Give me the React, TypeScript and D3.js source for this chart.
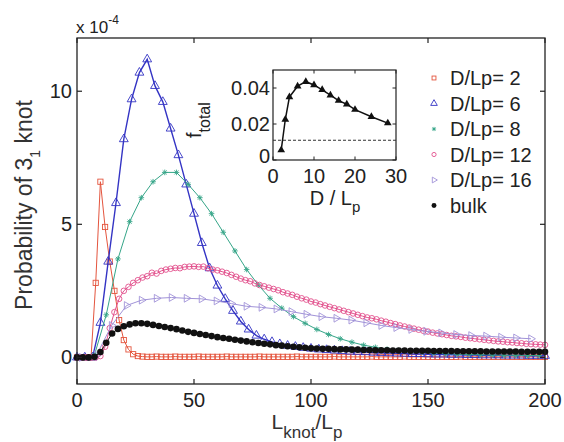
import React from 'react';
import * as d3 from 'd3';

const W = 564;
const H = 442;

// ---- main axes ----
const X_DOMAIN = [0, 200];
const Y_DOMAIN = [-1, 12];
const X_TICKS = [0, 50, 100, 150, 200];
const Y_TICKS = [0, 5, 10];

// ---- legend ----
const LEGEND_LABELS = ['D/Lp= 2', 'D/Lp= 6', 'D/Lp= 8', 'D/Lp= 12', 'D/Lp= 16', 'bulk'];

// ---- series (probability x 1e-4), sampled at start + i*step ----
const RED_START = 0;
const RED_STEP = 2;
const RED_VALUES = [
  0, 0, 0, 0, 2.8, 6.6, 4.9, 3.6, 2.5, 1.4, 0.65, 0.3, 0.12, 0.05,
  0.03, 0.02, 0.02, 0.03, 0.02, 0.02, 0.02, 0.03, 0.02, 0.02,
  0.02, 0.02, 0.03, 0.02, 0.02, 0.02, 0.02, 0.02, 0.03, 0.02,
  0.02, 0.02, 0.02, 0.02, 0.02, 0.03, 0.02, 0.02, 0.02, 0.02,
  0.02, 0.02, 0.02, 0.03, 0.02, 0.02, 0.02, 0.02, 0.02, 0.02,
  0.02, 0.03, 0.02, 0.02, 0.02, 0.02, 0.02, 0.02, 0.02, 0.03,
  0.02, 0.02, 0.02, 0.02, 0.02, 0.02, 0.03, 0.02, 0.02, 0.02,
  0.02, 0.02, 0.02, 0.02, 0.02, 0.02, 0.02, 0.02, 0.03, 0.02,
  0.02, 0.02, 0.02, 0.02, 0.02, 0.02, 0.02, 0.02, 0.02, 0.02,
  0.02, 0.02, 0.02, 0.02, 0.02, 0.02, 0.02,
];

const BLUE_START = 0;
const BLUE_STEP = 10 / 3;
const BLUE_VALUES = [
  0, 0, 0, 1.3, 3.6, 5.8, 8.2, 9.7, 10.7, 11.2,
  10.2, 9.6, 8.6, 7.6, 6.5, 5.4, 4.3, 3.35, 2.7, 2.2,
  1.75, 1.35, 1.05, 0.82, 0.68, 0.58, 0.5, 0.44, 0.4, 0.36,
  0.33, 0.3, 0.28, 0.26, 0.24, 0.22, 0.21, 0.2, 0.18, 0.17,
  0.16, 0.15, 0.14, 0.13, 0.13, 0.12, 0.11, 0.11, 0.1, 0.1,
  0.09, 0.09, 0.08, 0.08, 0.08, 0.07, 0.07, 0.07, 0.06, 0.06, 0.06,
];

const GREEN_START = 2.5;
const GREEN_STEP = 5;
const GREEN_VALUES = [
  0, 0.1, 1.6, 3.7, 5.1, 6.0, 6.6, 6.95, 6.95, 6.5,
  6.0, 5.4, 4.7, 4.0, 3.3, 2.72, 2.22, 1.85, 1.53, 1.28,
  1.05, 0.86, 0.7, 0.57, 0.46, 0.38, 0.31, 0.26, 0.22, 0.19,
  0.16, 0.14, 0.12, 0.11, 0.1, 0.09, 0.08, 0.08, 0.07, 0.07,
];

const PINK_START = 0;
const PINK_STEP = 2;
const PINK_VALUES = [
  0, 0, 0, 0, 0, 0.05, 0.4, 1.1, 1.7, 2.2,
  2.5, 2.65, 2.8, 2.9, 3.0, 3.05, 3.18, 3.15, 3.25, 3.3,
  3.33, 3.36, 3.35, 3.4, 3.41, 3.42, 3.4, 3.41, 3.35, 3.3,
  3.27, 3.22, 3.17, 3.1, 3.03, 2.96, 2.9, 2.86, 2.78, 2.72,
  2.67, 2.62, 2.57, 2.52, 2.45, 2.4, 2.35, 2.28, 2.22, 2.17,
  2.1, 2.06, 2.0, 1.95, 1.9, 1.85, 1.8, 1.75, 1.7, 1.65,
  1.6, 1.55, 1.5, 1.47, 1.43, 1.38, 1.34, 1.29, 1.25, 1.2,
  1.16, 1.12, 1.08, 1.04, 1.0, 0.97, 0.93, 0.9, 0.87, 0.84,
  0.81, 0.79, 0.77, 0.74, 0.72, 0.7, 0.68, 0.66, 0.64, 0.62,
  0.6, 0.59, 0.57, 0.56, 0.54, 0.53, 0.51, 0.5, 0.49, 0.48, 0.47,
];

const PURPLE_START = 2;
const PURPLE_STEP = 6.4;
const PURPLE_VALUES = [
  0, 0.1, 1.2, 1.95, 2.15, 2.22, 2.25, 2.22, 2.2, 2.12,
  2.02, 1.92, 1.88, 1.82, 1.72, 1.62, 1.53, 1.47, 1.4, 1.3,
  1.2, 1.12, 1.05, 0.98, 0.92, 0.86, 0.82, 0.8, 0.76, 0.73, 0.7,
];

const BLACK_START = 0;
const BLACK_STEP = 2.5;
const BLACK_VALUES = [
  0, 0, 0, 0.02, 0.2, 0.55, 0.9, 1.07, 1.17, 1.24,
  1.28, 1.28, 1.26, 1.22, 1.18, 1.14, 1.1, 1.06, 1.01, 0.96,
  0.92, 0.88, 0.84, 0.8, 0.76, 0.73, 0.7, 0.66, 0.63, 0.6,
  0.57, 0.54, 0.51, 0.49, 0.46, 0.44, 0.42, 0.4, 0.38, 0.36,
  0.34, 0.33, 0.32, 0.32, 0.31, 0.3, 0.3, 0.29, 0.29, 0.28,
  0.28, 0.27, 0.27, 0.27, 0.26, 0.26, 0.26, 0.25, 0.25, 0.25,
  0.25, 0.24, 0.24, 0.24, 0.24, 0.23, 0.23, 0.23, 0.23, 0.23,
  0.22, 0.22, 0.22, 0.22, 0.22, 0.22, 0.21, 0.21, 0.21, 0.21, 0.21,
];

// ---- inset ----
const INSET_X_TICKS = [0, 10, 20, 30];
const INSET_Y_TICKS = [0, 0.02, 0.04];
const INSET_Y_LABELS = ['0', '0.02', '0.04'];
const INSET_D = [2, 3, 4, 6, 8, 10, 12, 14, 16, 18, 20, 24, 28];
const INSET_F = [0.0055, 0.0225, 0.035, 0.041, 0.0435, 0.0417, 0.039, 0.036, 0.033, 0.031, 0.028, 0.024, 0.0205];
const INSET_BULK = 0.011;

const FONT = "'Liberation Sans', Arial, Helvetica, sans-serif";

type MarkerType = 'square' | 'triangle' | 'star' | 'circle' | 'triright' | 'dot';

const SERIES = [
  { label: LEGEND_LABELS[0], start: RED_START, step: RED_STEP, values: RED_VALUES, color: '#e4553e', marker: 'square' as MarkerType, width: 1 },
  { label: LEGEND_LABELS[1], start: BLUE_START, step: BLUE_STEP, values: BLUE_VALUES, color: '#3434c4', marker: 'triangle' as MarkerType, width: 1.4 },
  { label: LEGEND_LABELS[2], start: GREEN_START, step: GREEN_STEP, values: GREEN_VALUES, color: '#35a588', marker: 'star' as MarkerType, width: 1 },
  { label: LEGEND_LABELS[3], start: PINK_START, step: PINK_STEP, values: PINK_VALUES, color: '#e2508c', marker: 'circle' as MarkerType, width: 1 },
  { label: LEGEND_LABELS[4], start: PURPLE_START, step: PURPLE_STEP, values: PURPLE_VALUES, color: '#a193d8', marker: 'triright' as MarkerType, width: 1 },
  { label: LEGEND_LABELS[5], start: BLACK_START, step: BLACK_STEP, values: BLACK_VALUES, color: '#111111', marker: 'dot' as MarkerType, width: 1 },
];

function Marker({ type, x, y, color, s = 1 }: { type: MarkerType; x: number; y: number; color: string; s?: number }) {
  const sw = 0.9;
  switch (type) {
    case 'square':
      return <rect x={x - 2.6 * s} y={y - 2.6 * s} width={5.2 * s} height={5.2 * s} fill="none" stroke={color} strokeWidth={sw} />;
    case 'triangle':
      return <path transform={`translate(${x},${y})`} d={d3.symbol().type(d3.symbolTriangle).size(34 * s * s)()!} fill="none" stroke={color} strokeWidth={sw} />;
    case 'triright':
      return <path transform={`translate(${x},${y}) rotate(90)`} d={d3.symbol().type(d3.symbolTriangle).size(26 * s * s)()!} fill="none" stroke={color} strokeWidth={sw} />;
    case 'star': {
      const r = 2.8 * s;
      const d = r * 0.72;
      return (
        <g stroke={color} strokeWidth={sw}>
          <line x1={x - r} y1={y} x2={x + r} y2={y} />
          <line x1={x} y1={y - r} x2={x} y2={y + r} />
          <line x1={x - d} y1={y - d} x2={x + d} y2={y + d} />
          <line x1={x - d} y1={y + d} x2={x + d} y2={y - d} />
        </g>
      );
    }
    case 'circle':
      return <circle cx={x} cy={y} r={2.8 * s} fill="none" stroke={color} strokeWidth={sw} />;
    case 'dot':
      return <circle cx={x} cy={y} r={3.3 * s} fill={color} />;
  }
  return null;
}

export default function App() {
  const L = 77, R = 545, T = 38, B = 384;
  const x = d3.scaleLinear().domain(X_DOMAIN).range([L, R]);
  const y = d3.scaleLinear().domain(Y_DOMAIN).range([B, T]);

  const IL = 273, IR = 396, IT = 70, IB = 160;
  const ix = d3.scaleLinear().domain([0, 30]).range([IL, IR]);
  const iy = d3.scaleLinear().domain([0, 0.05]).range([IB, IT]);

  const line = d3.line<[number, number]>().x((d) => x(d[0])).y((d) => y(d[1]));
  const iline = d3.line<[number, number]>().x((d) => ix(d[0])).y((d) => iy(d[1]));

  const seriesPts = SERIES.map((s) => ({
    ...s,
    pts: s.values
      .map((v, i) => [s.start + i * s.step, v] as [number, number])
      .filter((p) => p[0] <= X_DOMAIN[1] + 1e-6),
  }));

  const insetPts = INSET_D.map((d, i) => [d, INSET_F[i]] as [number, number]);

  const tk = 5;
  const itk = 3.5;
  const legendX = 434;
  const legendTextX = 450;
  const legendBase0 = 85;
  const legendGap = 25.5;

  return (
    <svg width={W} height={H} style={{ position: 'absolute', left: 0, top: 0, background: '#fff' }} fontFamily={FONT}>
      <rect x={0} y={0} width={W} height={H} fill="#fff" />

      {/* series */}
      {seriesPts.map((s, k) => (
        <g key={k}>
          <path d={line(s.pts)!} fill="none" stroke={s.color} strokeWidth={s.width} />
          {s.pts.map((p, i) => (
            <Marker key={i} type={s.marker} x={x(p[0])} y={y(p[1])} color={s.color} />
          ))}
        </g>
      ))}

      {/* main frame */}
      <rect x={L} y={T} width={R - L} height={B - T} fill="none" stroke="#222" strokeWidth={1.3} />
      {X_TICKS.map((t) => (
        <g key={'xt' + t}>
          <line x1={x(t)} x2={x(t)} y1={B} y2={B - tk} stroke="#222" strokeWidth={1.2} />
          <line x1={x(t)} x2={x(t)} y1={T} y2={T + tk} stroke="#222" strokeWidth={1.2} />
          <text x={x(t)} y={B + 23} textAnchor="middle" fontSize={20} fill="#222">{t}</text>
        </g>
      ))}
      {Y_TICKS.map((t) => (
        <g key={'yt' + t}>
          <line x1={L} x2={L + tk} y1={y(t)} y2={y(t)} stroke="#222" strokeWidth={1.2} />
          <line x1={R} x2={R - tk} y1={y(t)} y2={y(t)} stroke="#222" strokeWidth={1.2} />
          <text x={L - 5} y={y(t) + 7} textAnchor="end" fontSize={20} fill="#222">{t}</text>
        </g>
      ))}

      {/* exponent */}
      <text x={76} y={33} fontSize={17} fill="#222">
        x 10<tspan dy={-9} fontSize={12}>-4</tspan>
      </text>

      {/* axis labels */}
      <text transform="translate(32,205) rotate(-90)" textAnchor="middle" fontSize={23} fill="#333">
        Probability of 3<tspan dy={8} fontSize={14}>1</tspan><tspan dy={-8}> knot</tspan>
      </text>
      <text x={307} y={429} textAnchor="middle" fontSize={21} fill="#333">
        L<tspan dy={9} fontSize={17}>knot</tspan><tspan dy={-9}>/L</tspan><tspan dy={9} fontSize={17}>p</tspan>
      </text>

      {/* legend */}
      {SERIES.map((s, i) => (
        <g key={'lg' + i}>
          <Marker type={s.marker} x={legendX} y={legendBase0 + i * legendGap - 7} color={s.color} s={0.75} />
          <text x={legendTextX} y={legendBase0 + i * legendGap} fontSize={20} fill="#222">{s.label}</text>
        </g>
      ))}

      {/* inset */}
      <rect x={IL} y={IT} width={IR - IL} height={IB - IT} fill="#fff" stroke="#222" strokeWidth={1.2} />
      <line x1={ix(0)} x2={ix(30)} y1={iy(INSET_BULK)} y2={iy(INSET_BULK)} stroke="#333" strokeWidth={1.1} strokeDasharray="3,2" />
      <path d={iline(insetPts)!} fill="none" stroke="#111" strokeWidth={1.5} />
      {insetPts.map((p, i) => (
        <path key={'ip' + i} transform={`translate(${ix(p[0])},${iy(p[1])})`} d={d3.symbol().type(d3.symbolTriangle).size(26)()!} fill="#111" />
      ))}
      {INSET_X_TICKS.map((t) => (
        <g key={'ixt' + t}>
          <line x1={ix(t)} x2={ix(t)} y1={IB} y2={IB - itk} stroke="#222" />
          <line x1={ix(t)} x2={ix(t)} y1={IT} y2={IT + itk} stroke="#222" />
          <text x={ix(t)} y={183} textAnchor="middle" fontSize={20} fill="#222">{t}</text>
        </g>
      ))}
      {INSET_Y_TICKS.map((t, i) => (
        <g key={'iyt' + t}>
          <line x1={IL} x2={IL + itk} y1={iy(t)} y2={iy(t)} stroke="#222" />
          <line x1={IR} x2={IR - itk} y1={iy(t)} y2={iy(t)} stroke="#222" />
          <text x={IL - 3} y={iy(t) + (i === 0 ? 3 : 7)} textAnchor="end" fontSize={20} fill="#222">{INSET_Y_LABELS[i]}</text>
        </g>
      ))}
      <text x={335} y={205} textAnchor="middle" fontSize={20} fill="#222">
        D / L<tspan dy={7} fontSize={15}>p</tspan>
      </text>
      <text transform="translate(201,138) rotate(-90)" fontSize={20} fill="#222">
        f<tspan dy={9} fontSize={16}>total</tspan>
      </text>
    </svg>
  );
}
